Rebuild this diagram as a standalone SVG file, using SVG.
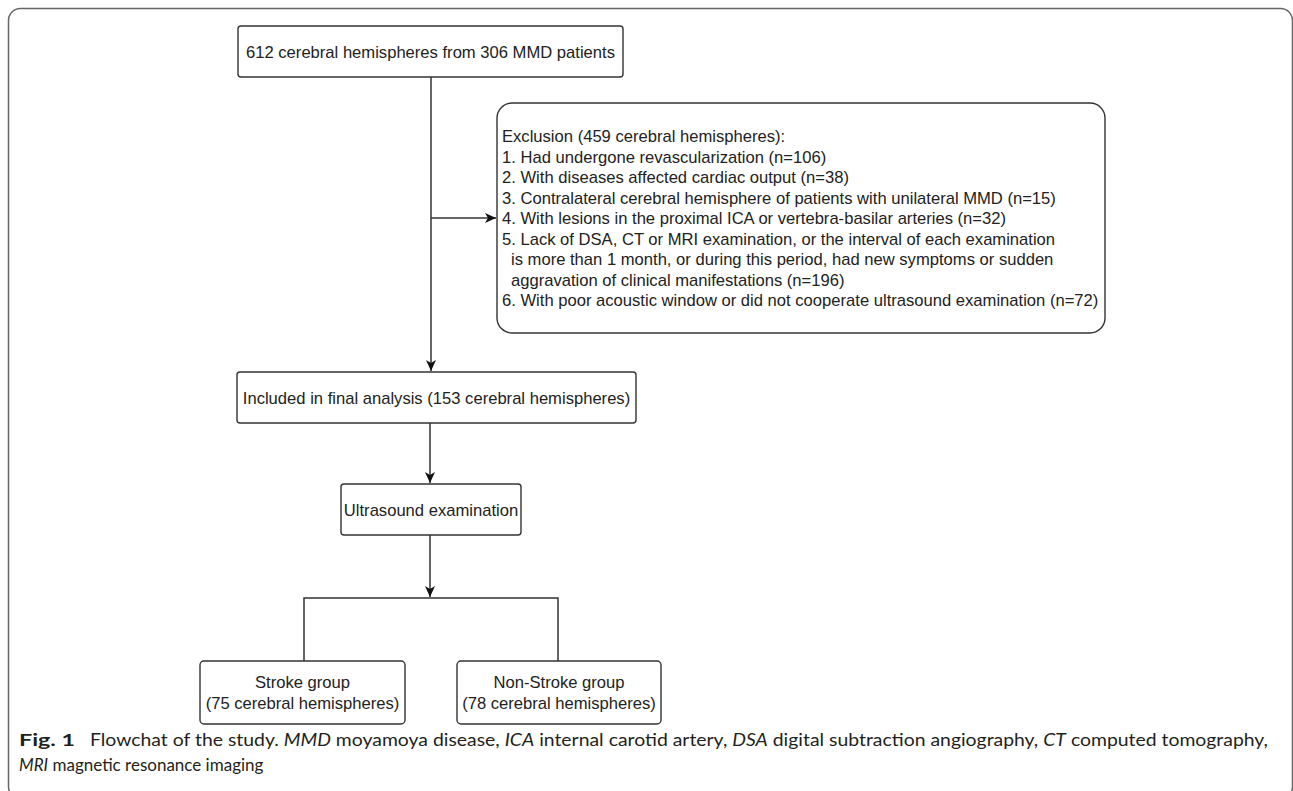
<svg xmlns="http://www.w3.org/2000/svg" width="1293" height="791" viewBox="0 0 1293 791">
<defs>
<style>
.box{fill:#fff;stroke:#333;stroke-width:1.4}
.t{font-family:"Liberation Sans",Arial,sans-serif;font-size:16.6px;fill:#222}
.c{text-anchor:middle}
.conn{fill:none;stroke:#333;stroke-width:1.5}
.cap{font-family:Lato,"Open Sans",sans-serif;font-size:17px;fill:#231f20}
</style>
<marker id="arr" markerUnits="userSpaceOnUse" markerWidth="12" markerHeight="11" refX="11" refY="5" orient="auto">
<path d="M0,0 L11,5 L0,10 L3,5 Z" fill="#111"/>
</marker>
</defs>
<rect width="1293" height="791" fill="#fff"/>
<rect id="frame" x="8.5" y="8.5" width="1284" height="790" rx="12" fill="none" stroke="#666" stroke-width="1.5"/>

<g id="connectors">
<path class="conn" d="M431,77 V371" marker-end="url(#arr)"/>
<path class="conn" d="M431,218 H496" marker-end="url(#arr)"/>
<path class="conn" d="M430,423 V483" marker-end="url(#arr)"/>
<path class="conn" d="M430,535 V597" marker-end="url(#arr)"/>
<path class="conn" d="M304,661 V598 H558 V661"/>
</g>

<g id="n_start">
<rect class="box" x="238" y="26" width="385" height="51" rx="3"/>
<text class="t c" x="430.5" y="57.5">612 cerebral hemispheres from 306 MMD patients</text>
</g>

<g id="n_exclusion">
<rect class="box" x="497" y="103" width="608" height="230" rx="15"/>
<text class="t" x="502" y="142">Exclusion (459 cerebral hemispheres):</text>
<text class="t" x="502" y="162.5">1. Had undergone revascularization (n=106)</text>
<text class="t" x="502" y="183">2. With diseases affected cardiac output (n=38)</text>
<text class="t" x="502" y="203.5">3. Contralateral cerebral hemisphere of patients with unilateral MMD (n=15)</text>
<text class="t" x="502" y="224">4. With lesions in the proximal ICA or vertebra-basilar arteries (n=32)</text>
<text class="t" x="502" y="244.5">5. Lack of DSA, CT or MRI examination, or the interval of each examination</text>
<text class="t" x="511" y="265">is more than 1 month, or during this period, had new symptoms or sudden</text>
<text class="t" x="511" y="285.5">aggravation of clinical manifestations (n=196)</text>
<text class="t" x="502" y="306">6. With poor acoustic window or did not cooperate ultrasound examination (n=72)</text>
</g>

<g id="n_included">
<rect class="box" x="237" y="372" width="399" height="51" rx="3"/>
<text class="t c" x="436.5" y="403.5">Included in final analysis (153 cerebral hemispheres)</text>
</g>

<g id="n_ultrasound">
<rect class="box" x="341" y="484" width="180" height="51" rx="3"/>
<text class="t c" x="431" y="515.5">Ultrasound examination</text>
</g>

<g id="n_stroke">
<rect class="box" x="200" y="661" width="205" height="63" rx="4"/>
<text class="t c" x="302.5" y="688">Stroke group</text>
<text class="t c" x="302.5" y="709">(75 cerebral hemispheres)</text>
</g>

<g id="n_nonstroke">
<rect class="box" x="457" y="661" width="204" height="63" rx="4"/>
<text class="t c" x="559" y="688">Non-Stroke group</text>
<text class="t c" x="559" y="709">(78 cerebral hemispheres)</text>
</g>

<g id="caption">
<text class="cap" x="19" y="746" font-weight="bold" font-size="18" textLength="56" lengthAdjust="spacingAndGlyphs">Fig. 1</text>
<text class="cap" x="90" y="746" textLength="1178" lengthAdjust="spacingAndGlyphs">Flowchat of the study. <tspan font-style="italic">MMD</tspan> moyamoya disease, <tspan font-style="italic">ICA</tspan> internal carotid artery, <tspan font-style="italic">DSA</tspan> digital subtraction angiography, <tspan font-style="italic">CT</tspan> computed tomography,</text>
<text class="cap" x="19" y="771"><tspan font-style="italic">MRI</tspan> magnetic resonance imaging</text>
</g>
</svg>
